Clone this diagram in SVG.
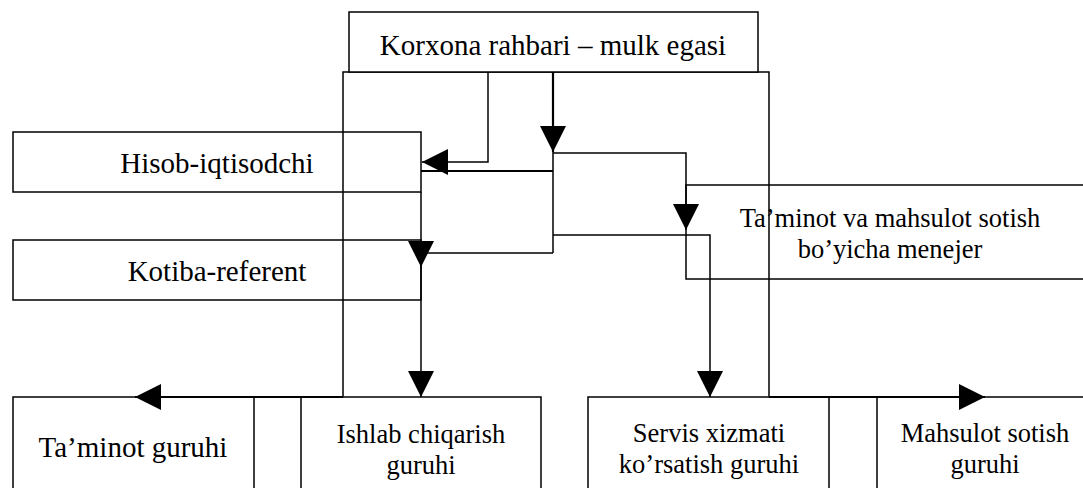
<svg xmlns="http://www.w3.org/2000/svg" width="1083" height="488" viewBox="0 0 1083 488">
<style>
.box{fill:#fff;stroke:#000;stroke-width:1.5}
.ln{fill:none;stroke:#000;stroke-width:1.5}
.bd{fill:none;stroke:#000;stroke-width:2.2}
.t1{font-family:"Liberation Serif","Times New Roman",serif;font-size:29px;fill:#000;text-anchor:middle}
.t2{font-family:"Liberation Serif","Times New Roman",serif;font-size:26.5px;fill:#000;text-anchor:middle}
</style>
<defs>
<marker id="arr" markerUnits="userSpaceOnUse" viewBox="0 0 26 26" refX="26" refY="13" markerWidth="26" markerHeight="26" orient="auto">
<path d="M0,0 L26,13 L0,26 z" fill="#000"/>
</marker>
</defs>
<rect width="1083" height="488" fill="#fff"/>
<g id="n-hisob"><rect class="box" x="13" y="132" width="408" height="60"/><text class="t1" x="217" y="173">Hisob-iqtisodchi</text></g>
<g id="n-kotiba"><rect class="box" x="13" y="240" width="408" height="60"/><text class="t1" x="217" y="281">Kotiba-referent</text></g>
<g id="n-manager"><rect class="box" x="686" y="185" width="410" height="94"/><text class="t2" x="890" y="227">Ta’minot va mahsulot sotish</text><text class="t2" x="890" y="258">bo’yicha menejer</text></g>
<g id="n-taminot"><rect class="box" x="13" y="397" width="241" height="110"/><text class="t1" x="133" y="457">Ta’minot guruhi</text></g>
<g id="n-ishlab"><rect class="box" x="301" y="397" width="240" height="110"/><text class="t2" x="421" y="443">Ishlab chiqarish</text><text class="t2" x="421" y="474">guruhi</text></g>
<g id="n-servis"><rect class="box" x="588" y="397" width="241" height="110"/><text class="t2" x="709" y="442">Servis xizmati</text><text class="t2" x="709" y="473">ko’rsatish guruhi</text></g>
<g id="n-mahsulot"><rect class="box" x="877" y="397" width="216" height="110"/><text class="t2" x="985" y="442">Mahsulot sotish</text><text class="t2" x="985" y="473">guruhi</text></g>
<g id="connectors">
<path class="ln" d="M343,397 V72 H769 V397"/>
<path class="bd" d="M343,397 H135" marker-end="url(#arr)"/>
<path class="bd" d="M769,397 H985" marker-end="url(#arr)"/>
<path class="ln" d="M488,72 V162 H422" marker-end="url(#arr)"/>
<path class="bd" d="M553,72 V152" marker-end="url(#arr)"/>
<path class="ln" d="M553,152 V253"/>
<path class="bd" d="M553,171 H421"/>
<path class="ln" d="M553,153 H686 V230" marker-end="url(#arr)"/>
<path class="ln" d="M553,235 H710 V397" marker-end="url(#arr)"/>
<path class="ln" d="M553,253 H421 V267" marker-end="url(#arr)"/>
<path class="ln" d="M421,192 V397" marker-end="url(#arr)"/>
</g>
<g id="n-top"><rect class="box" x="349" y="12" width="409" height="60"/><text class="t1" x="553" y="55">Korxona rahbari – mulk egasi</text></g>
</svg>
